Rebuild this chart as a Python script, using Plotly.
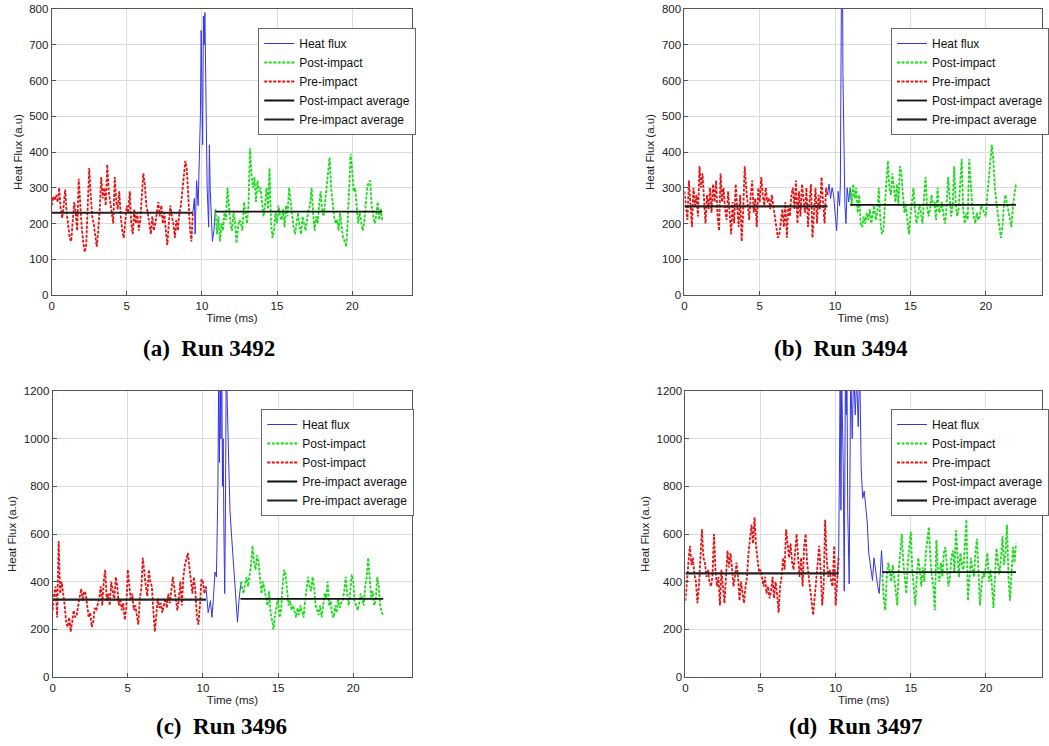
import numpy as np
import plotly.graph_objects as go

# ---------------- data ----------------
# Panel (a) Run 3492
a_pre_start, a_step = 0.0, 0.1
a_pre = [250, 275, 265, 280, 260, 300, 240, 215, 250, 295,
         230, 200, 160, 150, 210, 260, 230, 180, 325, 250,
         190, 150, 120, 140, 250, 355, 280, 220, 200, 160,
         135, 180, 240, 330, 270, 300, 250, 365, 290, 260,
         230, 200, 330, 260, 240, 290, 220, 180, 160, 200,
         250, 230, 290, 200, 170, 240, 200, 230, 180, 210,
         280, 340, 310, 250, 230, 200, 170, 220, 180, 200,
         240, 260, 220, 250, 200, 230, 180, 140, 200, 250,
         220, 200, 160, 210, 180, 230, 250, 290, 340, 375,
         350, 260, 190, 150, 230]
a_post_start = 10.9
a_post = [240, 170, 220, 150, 200, 180, 230, 210, 300, 250, 200,
          180, 230, 210, 145, 190, 210, 200, 180, 260, 220,
          200, 250, 410, 340, 300, 330, 260, 320, 290, 300,
          260, 220, 250, 300, 240, 355, 200, 160, 180, 230,
          200, 250, 220, 210, 240, 190, 250, 220, 300, 260,
          210, 190, 170, 200, 230, 190, 170, 220, 200, 180,
          210, 240, 250, 300, 230, 180, 220, 200, 250, 290,
          240, 220, 260, 300, 330, 385, 300, 250, 220, 200,
          210, 180, 230, 190, 160, 150, 135, 200, 300, 395,
          350, 290, 300, 250, 200, 230, 210, 180, 200, 260,
          300, 315, 320, 250, 230, 200, 220, 260, 210, 240,
          210]
a_flux_t = [9.4, 9.5, 9.55, 9.65, 9.75, 9.85, 9.9, 9.95, 10.0, 10.05, 10.1, 10.15,
            10.2, 10.25, 10.3, 10.35, 10.45, 10.5, 10.55, 10.6, 10.7, 10.8, 10.9]
a_flux = [230, 270, 170, 320, 250, 380, 500, 740, 600, 420, 780, 700,
          790, 650, 400, 300, 190, 420, 300, 250, 150, 180, 240]
a_pre_avg, a_post_avg = 230, 233

# Panel (b) Run 3494
b_pre_start, b_step = 0.0, 0.1
b_pre = [290, 240, 210, 320, 260, 190, 300, 250, 280, 220,
         360, 300, 340, 250, 200, 280, 240, 300, 230, 310,
         260, 320, 220, 180, 340, 260, 300, 240, 210, 290,
         220, 170, 260, 200, 310, 250, 190, 280, 150, 230,
         360, 300, 250, 210, 280, 320, 230, 270, 190, 300,
         260, 330, 280, 250, 300, 260, 270, 240, 280, 250,
         230, 200, 160, 170, 210, 240, 190, 260, 160, 250,
         220, 280, 300, 240, 320, 200, 290, 220, 310, 270,
         230, 300, 190, 260, 310, 160, 250, 300, 200, 280,
         240, 330, 260, 200, 300, 280]
b_post_start = 11.0
b_post = [300, 250, 310, 270, 300, 230, 280, 200, 190, 220,
          200, 230, 210, 240, 200, 220, 250, 210, 230, 300,
          210, 170, 180, 250, 330, 375, 300, 280, 340, 290,
          260, 310, 250, 360, 340, 280, 230, 250, 200, 170,
          220, 260, 300, 240, 200, 220, 250, 230, 200, 270,
          330, 250, 220, 240, 280, 250, 260, 210, 300, 230,
          240, 260, 220, 200, 250, 330, 280, 220, 250, 360,
          260, 220, 240, 300, 380, 240, 200, 230, 210, 380,
          300, 250, 220, 200, 230, 210, 220, 250, 240, 230,
          220, 280, 330, 360, 420, 380, 300, 260, 230, 200,
          160, 190, 250, 280, 260, 240, 220, 190, 250, 280,
          310]
b_flux_t = [9.5, 9.6, 9.7, 9.8, 9.9, 10.0, 10.1, 10.15, 10.2, 10.3, 10.35, 10.42,
            10.48, 10.52, 10.58, 10.65, 10.72, 10.8, 10.9, 11.0, 11.1]
b_flux = [280, 310, 270, 300, 280, 230, 180, 220, 290, 250, 310, 850,
          1000, 620, 410, 250, 200, 300, 260, 300, 260]
b_pre_avg, b_post_avg = 248, 252

# Panel (c) Run 3496
c_pre_start, c_step = 0.0, 0.1
c_pre = [280, 350, 380, 250, 570, 350, 400, 360, 300, 230,
         210, 250, 190, 230, 280, 250, 260, 300, 340, 370,
         320, 360, 350, 300, 250, 270, 210, 230, 290, 280,
         300, 330, 380, 300, 400, 450, 320, 350, 300, 400,
         360, 320, 420, 380, 300, 330, 280, 310, 240, 290,
         450, 380, 320, 350, 280, 300, 250, 220, 330, 370,
         500, 420, 380, 340, 450, 400, 380, 280, 190, 260,
         330, 290, 310, 270, 300, 330, 290, 350, 310, 380,
         420, 370, 320, 280, 330, 400, 300, 420, 470, 500,
         520, 460, 400, 350, 420, 360, 250, 220, 300, 410,
         400, 350, 380]
c_post_start = 12.5
c_post = [400, 370, 350, 390, 420,
          380, 420, 470, 550, 480, 450, 510, 480, 400, 350,
          400, 360, 330, 300, 360, 270, 240, 200, 260, 300,
          330, 250, 280, 380, 450, 430, 350, 300, 320, 280,
          300, 270, 250, 290, 260, 300, 280, 250, 320, 360,
          420, 380, 360, 420, 380, 300, 280, 260, 300, 250,
          300, 350, 330, 400, 300, 320, 260, 250, 300, 270,
          330, 290, 310, 320, 360, 420, 350, 300, 350, 430,
          400, 320, 300, 280, 310, 350, 330, 300, 380, 420,
          500, 420, 330, 360, 300, 320, 420, 380, 300, 270,
          260]
c_flux_t = [10.2, 10.35, 10.5, 10.6, 10.7, 10.8, 10.9, 11.0, 11.05, 11.1, 11.15, 11.2,
            11.25, 11.3, 11.35, 11.4, 11.45, 11.5, 11.55, 11.6, 11.7, 11.8, 11.9, 12.0,
            12.1, 12.2, 12.3, 12.4, 12.5, 12.6]
c_flux = [380, 270, 320, 250, 330, 440, 420, 800, 1300, 900, 1250, 1000,
          1400, 800, 1000, 600, 350, 700, 1300, 1200, 900, 700, 600, 500,
          420, 300, 230, 320, 380, 400]
c_pre_avg, c_post_avg = 325, 328

# Panel (d) Run 3497
d_pre_start, d_step = 0.0, 0.1
d_pre = [320, 420, 480, 550, 470, 500, 430, 400, 310, 380,
         480, 620, 500, 480, 420, 450, 400, 380, 420, 600,
         450, 380, 420, 300, 450, 380, 310, 420, 530, 460,
         520, 460, 380, 420, 480, 420, 320, 400, 350, 310,
         380, 420, 520, 580, 640, 560, 670, 550, 480, 440,
         450, 420, 380, 420, 350, 380, 330, 360, 420, 330,
         400, 350, 270, 380, 420, 500, 450, 620, 550, 500,
         560, 480, 450, 520, 600, 500, 420, 500, 380, 550,
         600, 480, 420, 350, 300, 260, 330, 400, 450, 550,
         450, 300, 380, 660, 500, 420, 450, 400, 380, 550,
         300, 420, 500]
d_post_start = 13.1
d_post = [430, 330, 280, 420, 480, 430, 400, 470, 420,
          350, 300, 450, 520, 600, 480, 400, 350, 480, 560,
          610, 450, 380, 300, 420, 500, 450, 380, 460, 400,
          520, 580, 630, 500, 420, 380, 280, 575, 450, 400,
          480, 420, 520, 545, 460, 380, 420, 500, 530, 440,
          615, 500, 420, 520, 470, 450, 560, 660, 320, 430,
          500, 450, 420, 520, 580, 450, 300, 380, 440, 420,
          480, 520, 400, 450, 380, 290, 420, 540, 480, 430,
          500, 590, 470, 520, 640, 420, 320, 450, 545, 480,
          560]
d_flux_t = [10.1, 10.2, 10.25, 10.3, 10.35, 10.4, 10.5, 10.57, 10.65, 10.7, 10.75, 10.8,
            10.9, 11.0, 11.1, 11.2, 11.3, 11.4, 11.5, 11.6, 11.7, 11.8, 11.9, 12.0,
            12.1, 12.2, 12.3, 12.45, 12.55, 12.7, 12.8, 12.9, 13.0, 13.05, 13.15]
d_flux = [420, 520, 860, 1300, 700, 1250, 900, 360, 1300, 1100, 1300, 700,
          390, 1300, 1000, 1300, 1100, 1250, 1050, 1300, 870, 750, 780, 700,
          650, 520, 475, 405, 500, 420, 380, 350, 450, 530, 430]
d_pre_avg, d_post_avg = 435, 440

x_ticks = [0, 5, 10, 15, 20]
y_ticks_top = [0, 100, 200, 300, 400, 500, 600, 700, 800]
y_ticks_bottom = [0, 200, 400, 600, 800, 1000, 1200]
t_end = 22.0

captions = ["(a)\u00a0\u00a0Run 3492", "(b)\u00a0\u00a0Run 3494",
            "(c)\u00a0\u00a0Run 3496", "(d)\u00a0\u00a0Run 3497"]
legend_labels = [
    ["Heat flux", "Post-impact", "Pre-impact", "Post-impact average", "Pre-impact average"],
    ["Heat flux", "Post-impact", "Pre-impact", "Post-impact average", "Pre-impact average"],
    ["Heat flux", "Post-impact", "Post-impact", "Pre-impact average", "Pre-impact average"],
    ["Heat flux", "Post-impact", "Pre-impact", "Post-impact average", "Pre-impact average"],
]

panels = [
    dict(pre=a_pre, pre_start=a_pre_start, step=a_step, post=a_post, post_start=a_post_start,
         ft=a_flux_t, f=a_flux, pre_avg=a_pre_avg, post_avg=a_post_avg),
    dict(pre=b_pre, pre_start=b_pre_start, step=b_step, post=b_post, post_start=b_post_start,
         ft=b_flux_t, f=b_flux, pre_avg=b_pre_avg, post_avg=b_post_avg),
    dict(pre=c_pre, pre_start=c_pre_start, step=c_step, post=c_post, post_start=c_post_start,
         ft=c_flux_t, f=c_flux, pre_avg=c_pre_avg, post_avg=c_post_avg),
    dict(pre=d_pre, pre_start=d_pre_start, step=d_step, post=d_post, post_start=d_post_start,
         ft=d_flux_t, f=d_flux, pre_avg=d_pre_avg, post_avg=d_post_avg),
]

# ---------------- layout geometry ----------------
W, H = 1049, 746
def px_x(v): return v / W
def px_y(v): return 1 - v / H

geom = [
    dict(x0=52, x1=415, y0=9, y1=295, xr=[0, 24], yr=[0, 800], yt=y_ticks_top,
         leg=(260, 28), cap=(210, 348)),
    dict(x0=689, x1=1049, y0=9, y1=295, xr=[0, 23.73], yr=[0, 800], yt=y_ticks_top,
         leg=(897, 28), cap=(847, 348)),
    dict(x0=53, x1=415, y0=391, y1=677, xr=[0, 23.93], yr=[0, 1200], yt=y_ticks_bottom,
         leg=(263, 409), cap=(223, 726)),
    dict(x0=690, x1=1049, y0=391, y1=677, xr=[0, 23.73], yr=[0, 1200], yt=y_ticks_bottom,
         leg=(897, 409), cap=(862, 726)),
]

BLUE = "#3535e8"
GREEN = "#18dd18"
RED = "#e81010"
DASH = "3px,1.5px"
tick_font = dict(family="Liberation Sans, Arial, sans-serif", size=11.5, color="#222")

fig = go.Figure()
layout = dict(width=W, height=H, margin=dict(l=0, r=0, t=0, b=0),
              paper_bgcolor="white", plot_bgcolor="white", showlegend=True)
annotations = []

for i, (p, g) in enumerate(zip(panels, geom)):
    n = "" if i == 0 else str(i + 1)
    xa, ya = "x" + n, "y" + n
    leg = "legend" + n
    labels = legend_labels[i]
    t_pre = p["pre_start"] + p["step"] * np.arange(len(p["pre"]))
    t_post = p["post_start"] + p["step"] * np.arange(len(p["post"]))

    fig.add_trace(go.Scatter(x=p["ft"], y=p["f"], mode="lines", name=labels[0],
                             line=dict(color=BLUE, width=1), xaxis=xa, yaxis=ya, legend=leg))
    fig.add_trace(go.Scatter(x=t_post, y=p["post"], mode="lines", name=labels[1],
                             line=dict(color=GREEN, width=1.8, dash=DASH), xaxis=xa, yaxis=ya, legend=leg))
    fig.add_trace(go.Scatter(x=t_pre, y=p["pre"], mode="lines", name=labels[2],
                             line=dict(color=RED, width=1.8, dash=DASH), xaxis=xa, yaxis=ya, legend=leg))
    fig.add_trace(go.Scatter(x=[t_post[0], t_end], y=[p["post_avg"], p["post_avg"]], mode="lines",
                             name=labels[3], line=dict(color="#111", width=1.8),
                             xaxis=xa, yaxis=ya, legend=leg))
    fig.add_trace(go.Scatter(x=[t_pre[0], t_pre[-1]], y=[p["pre_avg"], p["pre_avg"]], mode="lines",
                             name=labels[4], line=dict(color="#222", width=2.2),
                             xaxis=xa, yaxis=ya, legend=leg))

    axis_common = dict(showline=True, mirror=True, linecolor="#555", linewidth=1,
                       ticks="inside", ticklen=4, tickcolor="#555", showgrid=True,
                       gridcolor="#dcdcdc", gridwidth=1, zeroline=False,
                       tickfont=tick_font, automargin=False)
    layout["xaxis" + n] = dict(axis_common, domain=[px_x(g["x0"]), px_x(g["x1"])],
                               range=g["xr"], tickvals=x_ticks, anchor=ya,
                               title=dict(text="Time (ms)", font=tick_font, standoff=2))
    layout["yaxis" + n] = dict(axis_common, domain=[px_y(g["y1"]), px_y(g["y0"])],
                               range=g["yr"], tickvals=g["yt"], anchor=xa,
                               title=dict(text="Heat Flux (a.u)", font=tick_font, standoff=4))
    layout[leg] = dict(x=px_x(g["leg"][0]), y=px_y(g["leg"][1]), xanchor="left", yanchor="top",
                       bgcolor="white", bordercolor="#666", borderwidth=1,
                       font=dict(family="Liberation Sans, Arial, sans-serif", size=12, color="#111"),
                       itemwidth=30, traceorder="normal", tracegroupgap=0)
    annotations.append(dict(text="<b>" + captions[i] + "</b>", xref="paper", yref="paper",
                            x=px_x(g["cap"][0]), y=px_y(g["cap"][1]), xanchor="center",
                            yanchor="middle", showarrow=False,
                            font=dict(family="Liberation Serif, Times New Roman, serif",
                                      size=23, color="black")))

layout["annotations"] = annotations
fig.update_layout(**layout)
fig.write_html("out.html")
